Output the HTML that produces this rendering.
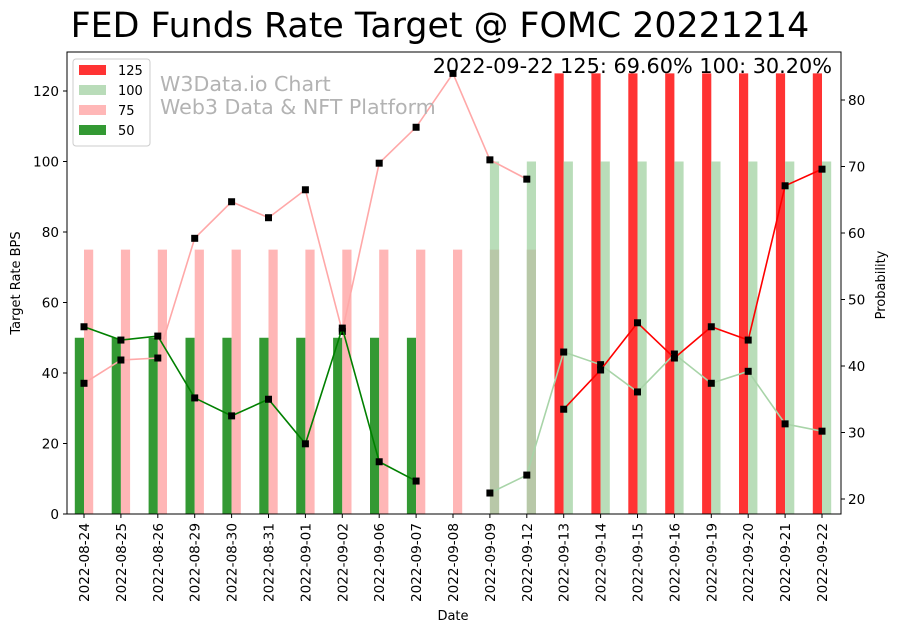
<!DOCTYPE html>
<html><head><meta charset="utf-8"><style>
html,body{margin:0;padding:0;background:#fff;}
svg{display:block;font-family:"DejaVu Sans","Liberation Sans",sans-serif;}
</style></head><body>
<svg id="chart" width="897" height="633" viewBox="0 0 897 633">
<rect width="897" height="633" fill="#fff"/>
<text x="440" y="37" font-size="34.8" text-anchor="middle" fill="#000">FED Funds Rate Target @ FOMC 20221214</text>
<g id="bars"></g>
<g id="lines"></g>
<rect x="67" y="52" width="774" height="462" fill="none" stroke="#000" stroke-width="1"/>
<g id="axes" font-size="13.6" fill="#000"></g>
<text x="160" y="91" font-size="20.6" fill="#b3b3b3">W3Data.io Chart</text>
<text x="160" y="114" font-size="20.6" fill="#b3b3b3">Web3 Data &amp; NFT Platform</text>
<text x="832" y="73" font-size="20.8" text-anchor="end" fill="#000">2022-09-22 125: 69.60% 100: 30.20%</text>
<g>
<rect x="73" y="59" width="77" height="87" fill="#fff" stroke="#ccc" rx="3"/>
<rect x="79" y="65" width="27" height="10" fill="#ff3333"/>
<text x="118" y="75" font-size="13">125</text>
<rect x="79" y="85" width="27" height="10" fill="#b9dcb9"/>
<text x="118" y="95" font-size="13">100</text>
<rect x="79" y="105" width="27" height="10" fill="#ffb7b7"/>
<text x="118" y="115" font-size="13">75</text>
<rect x="79" y="125" width="27" height="10" fill="#339933"/>
<text x="118" y="135" font-size="13">50</text>
</g>
<text transform="translate(20,283) rotate(-90)" font-size="13" text-anchor="middle">Target Rate BPS</text>
<text transform="translate(885,285) rotate(-90)" font-size="13" text-anchor="middle">Probability</text>
<text x="453" y="620" font-size="13" text-anchor="middle">Date</text>
</svg>
<script>
const dates=["2022-08-24","2022-08-25","2022-08-26","2022-08-29","2022-08-30","2022-08-31","2022-09-01","2022-09-02","2022-09-06","2022-09-07","2022-09-08","2022-09-09","2022-09-12","2022-09-13","2022-09-14","2022-09-15","2022-09-16","2022-09-19","2022-09-20","2022-09-21","2022-09-22"];
const prob50=[45.9,43.9,44.5,35.2,32.5,35.0,28.3,45.7,25.6,22.7,null,null,null,null,null,null,null,null,null,null,null];
const prob75=[37.4,40.9,41.2,59.2,64.7,62.3,66.5,45.2,70.5,75.9,84.0,71.0,68.1,null,null,null,null,null,null,null,null];
const prob100=[null,null,null,null,null,null,null,null,null,null,null,20.9,23.6,42.1,40.2,36.1,41.8,37.4,39.2,31.3,30.2];
const prob125=[null,null,null,null,null,null,null,null,null,null,null,null,null,33.5,39.4,46.5,41.2,45.9,43.9,67.1,69.6];
const leftTicks=[0,20,40,60,80,100,120];
const rightTicks=[20,30,40,50,60,70,80];
const NS="http://www.w3.org/2000/svg";
const X0=84,DX=36.9,BW=9.2;
function xs(i){return X0+i*DX;}
function yl(v){return 514-v*(423/120);}
function yr(v){return 499-(v-20)*6.65;}
function mk(tag,attrs,parent){const e=document.createElementNS(NS,tag);for(const k in attrs)e.setAttribute(k,attrs[k]);parent.appendChild(e);return e;}
const bars=document.getElementById('bars'),lines=document.getElementById('lines'),axes=document.getElementById('axes');
dates.forEach((d,i)=>{
  if(prob50[i]!=null){const r=mk('rect',{x:xs(i)-BW,y:yl(50),width:BW,height:yl(0)-yl(50),fill:'#339933'},bars);
    
    }
  if(prob125[i]!=null){const r=mk('rect',{x:xs(i)-BW,y:yl(125),width:BW,height:yl(0)-yl(125),fill:'#ff3333'},bars);
    
    }
  if(prob100[i]!=null){const r=mk('rect',{x:xs(i),y:yl(100),width:BW,height:yl(0)-yl(100),fill:'#b9ddb9'},bars);
    
    }
  if(prob75[i]!=null){const both=prob100[i]!=null;
    const r=mk('rect',{x:xs(i),y:yl(75),width:BW,height:yl(0)-yl(75),fill:both?'#b8c8a8':'#ffb6b6'},bars);
    
    }
});
function series(arr,color,name){
  const pts=[];arr.forEach((v,i)=>{if(v!=null)pts.push([xs(i),yr(v)]);});
  const p=mk('polyline',{points:pts.map(p=>p.join(',')).join(' '),fill:'none',stroke:color,'stroke-width':1.6},lines);
  
  
  pts.forEach(pt=>{const m=mk('rect',{x:pt[0]-3.5,y:pt[1]-3.5,width:7,height:7,fill:'#000'},lines);
    
    });
}
series(prob75,'#ffa8a8','prob-75');
series(prob100,'#a8d4a8','prob-100');
series(prob50,'#008000','prob-50');
series(prob125,'#ff0000','prob-125');
leftTicks.forEach(v=>{const y=yl(v);mk('line',{x1:63,x2:67,y1:y,y2:y,stroke:'#000'},axes);
  const t=mk('text',{x:59,y:y+5,'text-anchor':'end'},axes);t.textContent=v;
  
  });
rightTicks.forEach(v=>{const y=yr(v);mk('line',{x1:841,x2:845,y1:y,y2:y,stroke:'#000'},axes);
  const t=mk('text',{x:848,y:y+5},axes);t.textContent=v;
  
  });
dates.forEach((d,i)=>{const x=xs(i);mk('line',{x1:x,x2:x,y1:514,y2:518,stroke:'#000'},axes);
  const t=mk('text',{transform:`translate(${x+5},523) rotate(-90)`,'text-anchor':'end'},axes);t.textContent=d;
  
  });
</script>
</body></html>
